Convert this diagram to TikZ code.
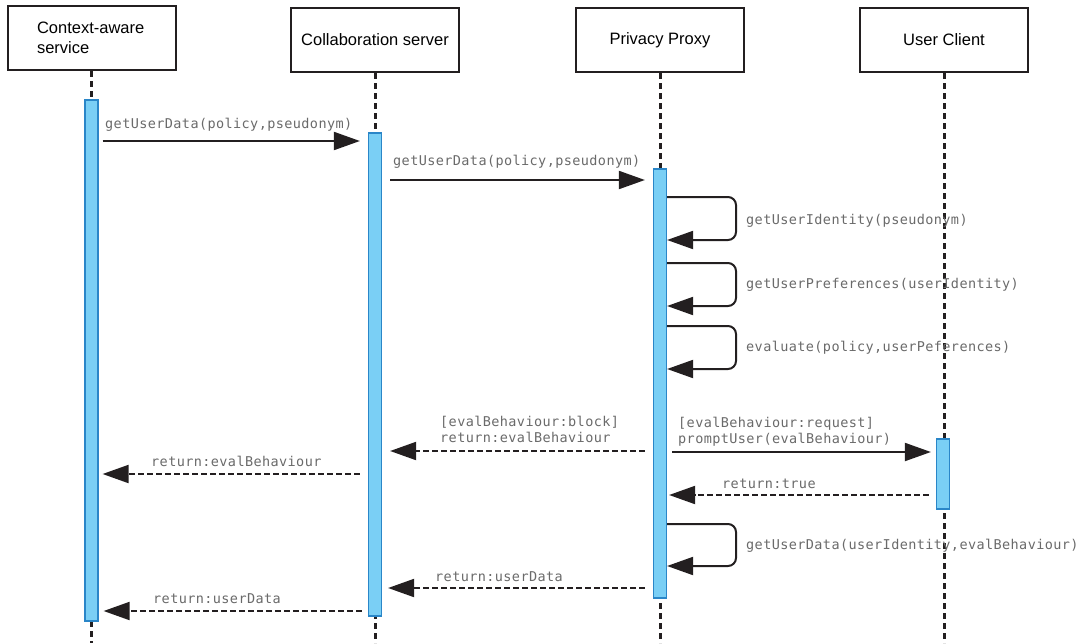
\documentclass[tikz,border=0pt]{standalone}
\usepackage{fontspec}
\setmainfont{Liberation Sans}
\newfontfamily\msgfont[LetterSpace=3]{DejaVu Sans Mono}
\usetikzlibrary{arrows.meta}
\definecolor{actfill}{HTML}{7ACFF5}
\definecolor{actdraw}{HTML}{2A86C8}
\definecolor{lbl}{HTML}{6A6A6A}
\definecolor{ink}{HTML}{231F20}
\begin{document}
\begin{tikzpicture}[x=1pt,y=-1pt,
  head/.style={draw=ink,line width=2pt,minimum width=168pt,minimum height=64pt,inner sep=0pt,font=\fontsize{16.5}{20}\selectfont},
  life/.style={draw=ink,line width=3pt,dash pattern=on 6pt off 4pt},
  act/.style={draw=actdraw,fill=actfill,line width=1.2pt,minimum width=13pt,inner sep=0pt},
  msg/.style={draw=ink,line width=2pt,-{Triangle[length=26pt,width=18pt]}},
  ret/.style={msg,dash pattern=on 6pt off 3pt},
  mlab/.style={font=\msgfont\fontsize{13.5}{16}\selectfont,text=lbl,inner sep=0pt,anchor=base west}
]
\useasboundingbox (0,0) rectangle (1084,643);
% heads
\node[head,text width=110pt,align=left] (h1) at (92,38) {Context-aware\\service};
\node[head] (h2) at (375,40) {Collaboration server};
\node[head] (h3) at (660,40) {Privacy Proxy};
\node[head] (h4) at (944,40) {User Client};
% lifelines
\coordinate (e1) at (91,643);
\coordinate (e2) at (375,643);
\coordinate (e3) at (660,643);
\coordinate (e4) at (944,643);
\draw[life] (h1.south -| e1) -- (e1);
\draw[life] (h2.south) -- (e2);
\draw[life] (h3.south) -- (e3);
\draw[life] (h4.south) -- (e4);
% activations
\node[act,minimum height=521pt] (b1) at (91.5,360.5) {};
\node[act,minimum height=483pt] (b2) at (375,374.5) {};
\node[act,minimum height=429pt] (b3) at (660,383.5) {};
\node[act,minimum height=70pt] (b4) at (943,474) {};
% messages
\draw[msg,shorten <=4pt,shorten >=8pt] (b1.east |- 0,141) -- (b2.west |- 0,141);
\node[mlab] (l1) at (105,128) {getUserData(policy,pseudonym)};
\draw[msg,shorten <=8pt,shorten >=8pt] (b2.east |- 0,180) -- (b3.west |- 0,180);
\node[mlab] (l2) at (393,165) {getUserData(policy,pseudonym)};
% self loops
\draw[msg,rounded corners=8pt] (b3.east |- 0,197) -- (736,197) -- (736,240) -- (b3.east |- 0,240);
\node[mlab] (l3) at (746,224) {getUserIdentity(pseudonym)};
\draw[msg,rounded corners=8pt] (b3.east |- 0,263) -- (736,263) -- (736,306) -- (b3.east |- 0,306);
\node[mlab] (l4) at (746,288) {getUserPreferences(userIdentity)};
\draw[msg,rounded corners=8pt] (b3.east |- 0,326) -- (736,326) -- (736,369) -- (b3.east |- 0,369);
\node[mlab] (l5) at (746,351) {evaluate(policy,userPeferences)};
% block return
\draw[ret,shorten <=8pt,shorten >=8pt] (b3.west |- 0,451) -- (b2.east |- 0,451);
\node[mlab] (l6) at (440,426) {[evalBehaviour:block]};
\node[mlab] (l7) at (440,442) {return:evalBehaviour};
% prompt user
\draw[msg,shorten <=5pt,shorten >=5pt] (b3.east |- 0,452) -- (b4.west |- 0,452);
\node[mlab] (l8) at (678,427) {[evalBehaviour:request]};
\node[mlab] (l9) at (678,443) {promptUser(evalBehaviour)};
% return eval to context
\draw[ret,shorten <=8pt,shorten >=4pt] (b2.west |- 0,474) -- (b1.east |- 0,474);
\node[mlab] (l10) at (151,466) {return:evalBehaviour};
% return true
\draw[ret,shorten <=7pt,shorten >=2pt] (b4.west |- 0,495) -- (b3.east |- 0,495);
\node[mlab] (l11) at (722,488) {return:true};
% loop 4
\draw[msg,rounded corners=8pt] (b3.east |- 0,524) -- (736,524) -- (736,566) -- (b3.east |- 0,566);
\node[mlab] (l12) at (746,549) {getUserData(userIdentity,evalBehaviour)};
% return userData
\draw[ret,shorten <=8pt,shorten >=6pt] (b3.west |- 0,588) -- (b2.east |- 0,588);
\node[mlab] (l13) at (435,581) {return:userData};
\draw[ret,shorten <=6pt,shorten >=5pt] (b2.west |- 0,611) -- (b1.east |- 0,611);
\node[mlab] (l14) at (153,603) {return:userData};
\end{tikzpicture}
\end{document}
